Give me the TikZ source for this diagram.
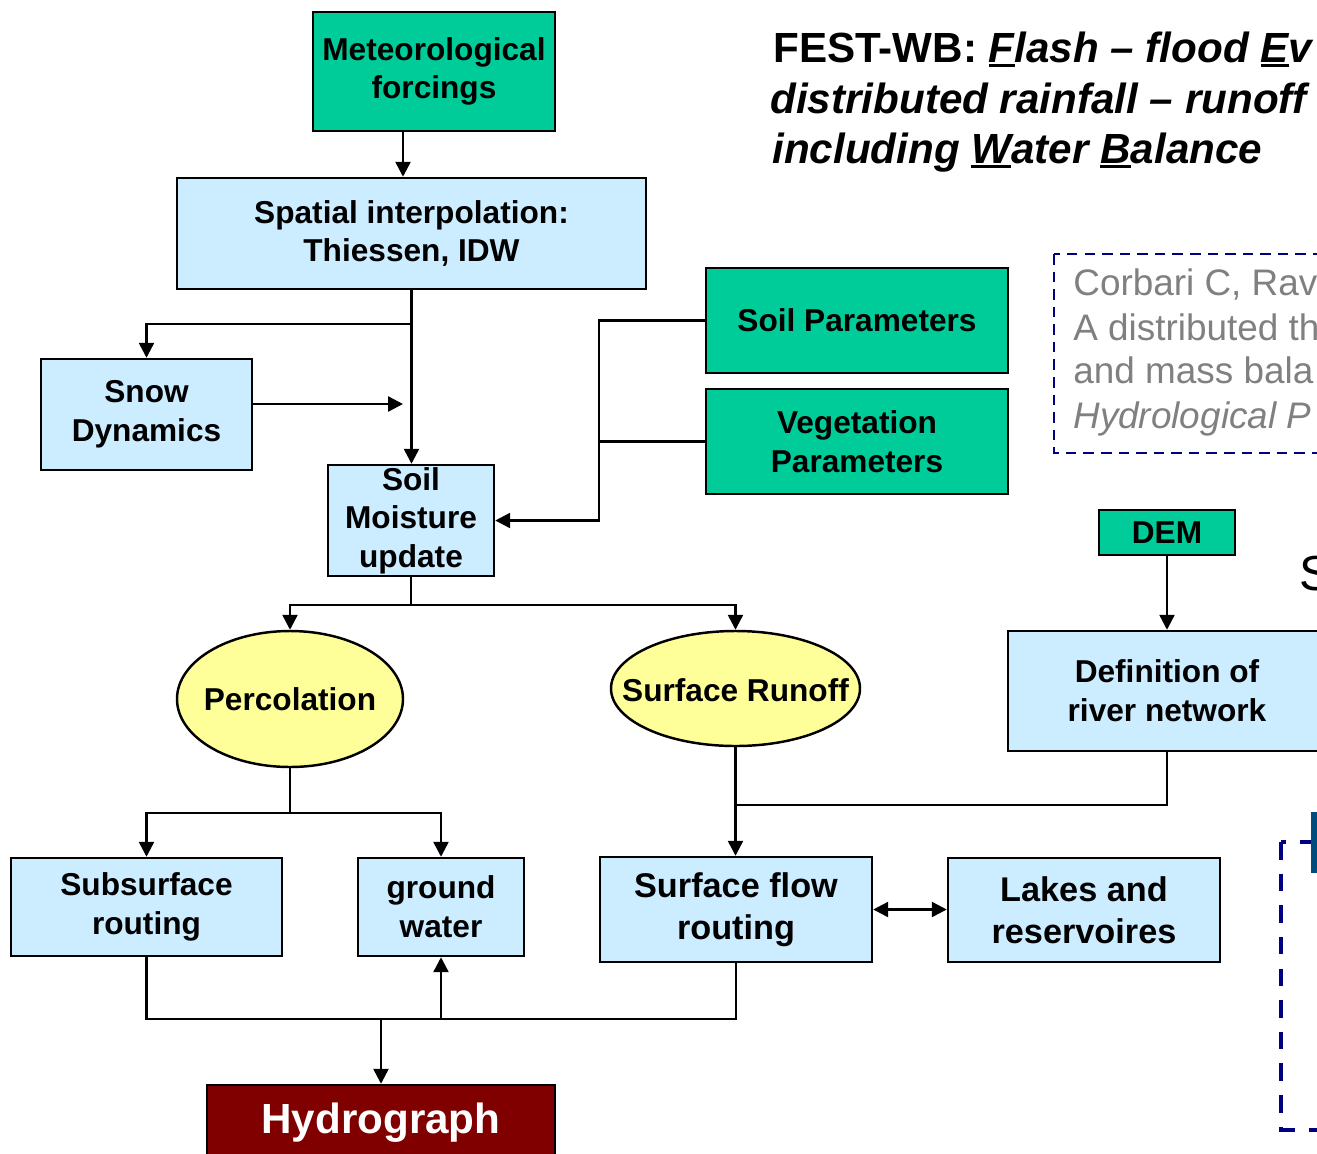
\documentclass[tikz,border=0pt]{standalone}
\usepackage{fontspec}
\setmainfont{Liberation Sans}
\usetikzlibrary{arrows.meta,shapes.geometric}
\definecolor{fgreen}{HTML}{00CC99}
\definecolor{fblue}{HTML}{CCECFF}
\definecolor{fyellow}{HTML}{FFFF99}
\definecolor{fred}{HTML}{800000}
\definecolor{fnavy}{HTML}{000080}
\definecolor{fgray}{HTML}{808080}
\definecolor{fbar}{RGB}{0,76,127}
\newcommand{\ulet}[1]{\setbox0\hbox{#1}\rlap{\rule[-0.13em]{\wd0}{0.09em}}\box0}
\begin{document}
\begin{tikzpicture}[
  box/.style={draw=black, line width=1.4pt, align=center, inner sep=0.5pt, font=\fontsize{18}{22}\selectfont\bfseries},
  bluebox/.style={box, fill=fblue},
  greenbox/.style={box, fill=fgreen},
  oval/.style={ellipse, draw=black, line width=1.4pt, fill=fyellow, inner sep=0pt},
  ovaltext/.style={font=\fontsize{18}{22}\selectfont\bfseries, inner sep=0pt},
  arr/.style={line width=1.4pt, -{Triangle[length=8.5pt,width=8.5pt]}},
  dbl/.style={line width=1.4pt, {Triangle[length=8.5pt,width=8.5pt]}-{Triangle[length=8.5pt,width=8.5pt]}},
  wire/.style={line width=1.4pt},
  citetext/.style={anchor=base west, inner sep=0pt, text=fgray, font=\fontsize{21}{25}\selectfont},
  titletext/.style={anchor=base west, inner sep=0pt, font=\fontsize{24}{28}\selectfont\bfseries},
]
\useasboundingbox (0,0) rectangle (26.34,-23.08);
\clip (0,0) rectangle (26.34,-23.08);

% title and reference
\node[titletext] (title1) at (15.46,-1.24) {FEST-WB: \textit{\ulet{F}lash -- flood \ulet{E}v}};
\node[titletext] (title2) at (15.40,-2.26) {\textit{distributed rainfall -- runoff}};
\node[titletext] (title3) at (15.44,-3.26) {\textit{including \ulet{W}ater \ulet{B}alance}};

\draw[fnavy, line width=1.3pt, dash pattern=on 6pt off 4pt] (21.08,-5.08) rectangle (27,-9.06);
\node[citetext] (cite1) at (21.46,-5.90) {Corbari C, Rav};
\node[citetext] (cite2) at (21.46,-6.80) {A distributed th};
\node[citetext] (cite3) at (21.46,-7.66) {and mass bala};
\node[citetext] (cite4) at (21.46,-8.56) {\itshape Hydrological P};

\node[anchor=base west, inner sep=0pt, font=\fontsize{28}{32}\selectfont] (stext) at (25.99,-11.80) {S};

\draw[fnavy, line width=2.5pt, dash pattern=on 10pt off 8pt] (25.62,-16.84) rectangle (27.5,-22.6);
\fill[fbar] (26.22,-16.24) rectangle (26.40,-17.46);

% boxes
\node[greenbox, minimum width=4.84cm, minimum height=2.38cm] (met) at (8.68,-1.43) {Meteorological\\forcings};
\node[bluebox, minimum width=9.38cm, minimum height=2.22cm] (spat) at (8.23,-4.67) {Spatial interpolation:\\Thiessen, IDW};
\node[bluebox, minimum width=4.22cm, minimum height=2.22cm] (snow) at (2.93,-8.29) {Snow\\Dynamics};
\node[bluebox, minimum width=3.32cm, minimum height=2.22cm] (moist) at (8.22,-10.41) {Soil\\Moisture\\update};
\node[greenbox, minimum width=6.04cm, minimum height=2.10cm] (soilp) at (17.14,-6.41) {Soil Parameters};
\node[greenbox, minimum width=6.04cm, minimum height=2.10cm] (vegp) at (17.14,-8.83) {Vegetation\\Parameters};
\node[greenbox, minimum width=2.72cm, minimum height=0.90cm] (dem) at (23.34,-10.65) {DEM};
\node[bluebox, minimum width=6.36cm, minimum height=2.40cm] (rivnet) at (23.34,-13.82) {Definition of\\river network};

\node[oval, minimum width=4.52cm, minimum height=2.72cm] (perc) at (5.80,-13.98) {};
\node[ovaltext] (perctext) at (perc) {Percolation};
\node[oval, minimum width=4.98cm, minimum height=2.30cm] (runoff) at (14.71,-13.77) {};
\node[ovaltext] (runofftext) at ([yshift=-0.04cm]runoff) {Surface Runoff};

\node[bluebox, minimum width=5.42cm, minimum height=1.96cm] (subs) at (2.93,-18.14) {Subsurface\\routing};
\node[bluebox, minimum width=3.32cm, minimum height=1.96cm] (gw) at (8.82,-18.14) {ground\\water};
\node[bluebox, minimum width=5.44cm, minimum height=2.10cm, font=\fontsize{19.5}{24}\selectfont\bfseries] (sflow) at (14.72,-18.19) {Surface flow\\routing};
\node[bluebox, minimum width=5.44cm, minimum height=2.08cm, font=\fontsize{19.5}{24}\selectfont\bfseries] (lakes) at (21.68,-18.20) {Lakes and\\reservoires};
\node[box, fill=fred, text=white, font=\fontsize{24}{28}\selectfont\bfseries, minimum width=6.96cm, minimum height=1.50cm] (hydro) at (7.62,-22.45) {Hydrograph};

% connectors
\draw[arr] ([xshift=-6.2mm]met.south) -- ([xshift=-6.2mm]met.south |- spat.north);
\draw[arr] (spat.south) -- (spat.south |- moist.north);
\coordinate (snowturn) at ([yshift=-6.8mm]spat.south);
\draw[arr] (snowturn) -| (snow.north);
\coordinate (snowend) at (8.06,-8.08);
\draw[arr] (snow.east |- snowend) -- (snowend);

\draw[arr] (soilp.west) -- ++(-2.12,0) |- (moist.east);
\draw[wire] (vegp.west) -- ++(-2.12,0);

\coordinate (msplit) at ([yshift=-5.6mm]moist.south);
\draw[wire] (moist.south) -- (msplit);
\draw[arr] (msplit) -| (perc.north);
\draw[arr] (msplit) -| (runoff.north);

\coordinate (psplit) at ([yshift=-9mm]perc.south);
\draw[wire] (perc.south) -- (psplit);
\draw[arr] (psplit) -| (subs.north);
\draw[arr] (psplit) -| (gw.north);

\draw[arr] (dem.south) -- (rivnet.north);
\draw[arr] (runoff.south) -- (runoff.south |- sflow.north);
\draw[wire] (rivnet.south) |- ([yshift=-11.6mm]runoff.south);
\draw[dbl] (sflow.east) -- (sflow.east -| lakes.west);

\coordinate (busl) at ([yshift=-12.4mm]subs.south);
\draw[wire] (subs.south) -- (busl) -| (sflow.south);
\draw[arr] (busl -| gw.south) -- (gw.south);
\draw[arr] (busl -| hydro.north) -- (hydro.north);
\end{tikzpicture}
\end{document}
